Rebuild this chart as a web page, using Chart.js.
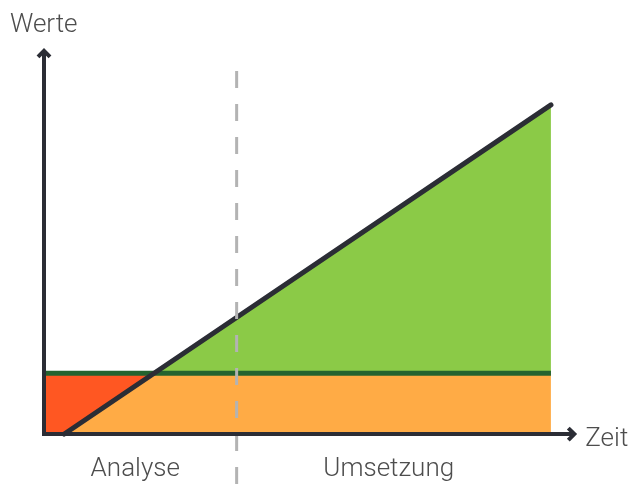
<!DOCTYPE html>
<html>
<head>
<meta charset="utf-8">
<script src="https://cdn.jsdelivr.net/npm/chart.js@4"></script>
<style>
	body { margin: 0; background: #ffffff; }
	#wrap { width: 631px; height: 491px; }
</style>
</head>
<body>
<div id="wrap"><canvas id="diagram" width="631" height="491"></canvas></div>
<script>
// values (x = Zeit, y = Werte)
const axisLabels = ["Werte", "Zeit"];
const phaseNames = ["Analyse", "Umsetzung"];
const phaseCenters = [18, 68];
const phaseSplit = [38, 38];
const splitSpan = [110.3, -17.3];

const threshold = [18.5, 18.5];
const thresholdX = [0, 100];

const lineX = [4, 100];
const lineY = [0, 100];
const crossX = 21.8;

const xAxisEnd = 105;
const yAxisEnd = 117;

const dark = "#2b2d35";

function pts(xs, ys) {
	let out = [];
	for (let i = 0; i < xs.length; i++) {
		out.push({ x: xs[i], y: ys[i] });
	}
	return out;
}

// axes with arrows + text
const decorations = {
	id: "decorations",
	afterDatasetsDraw(chart) {
		const ctx = chart.ctx;
		const xs = chart.scales.x;
		const ys = chart.scales.y;
		const x0 = xs.getPixelForValue(0);
		const y0 = ys.getPixelForValue(0);
		const xEnd = xs.getPixelForValue(xAxisEnd);
		const yEnd = ys.getPixelForValue(yAxisEnd);

		ctx.save();
		ctx.strokeStyle = dark;
		ctx.lineWidth = 4;
		ctx.lineCap = "butt";
		ctx.lineJoin = "miter";

		ctx.beginPath();
		ctx.moveTo(x0, y0 + 2);
		ctx.lineTo(x0, yEnd + 2);
		ctx.moveTo(x0 - 2, y0);
		ctx.lineTo(xEnd - 2, y0);
		ctx.stroke();

		ctx.beginPath();
		ctx.moveTo(x0 - 6, yEnd + 8);
		ctx.lineTo(x0, yEnd + 2);
		ctx.lineTo(x0 + 6, yEnd + 8);
		ctx.moveTo(xEnd - 8, y0 - 6);
		ctx.lineTo(xEnd - 2, y0);
		ctx.lineTo(xEnd - 8, y0 + 6);
		ctx.stroke();

		ctx.fillStyle = "#4d4d4d";
		ctx.font = "300 26px Roboto";
		ctx.textBaseline = "alphabetic";
		ctx.textAlign = "left";
		ctx.fillText(axisLabels[0], x0 - 34, 32);
		ctx.fillText(axisLabels[1], xEnd + 9, y0 + 3 + 9);
		ctx.textAlign = "center";
		for (let i = 0; i < phaseNames.length; i++) {
			ctx.fillText(phaseNames[i], xs.getPixelForValue(phaseCenters[i]), 476);
		}
		ctx.restore();
	},
};

const ctx = document.getElementById("diagram");

new Chart(ctx, {
	type: "line",
	data: {
		datasets: [
			{
				// dashed split between the phases
				data: pts(phaseSplit, splitSpan),
				borderColor: "#b3b3b3",
				borderWidth: 3,
				borderDash: [17, 16],
				fill: false,
				order: 0,
			},
			{
				// rising line
				data: pts(lineX, lineY),
				borderColor: dark,
				borderWidth: 5,
				borderCapStyle: "round",
				fill: false,
				order: 1,
			},
			{
				// threshold line
				data: pts(thresholdX, threshold),
				borderColor: "#24632f",
				borderWidth: 5,
				fill: false,
				order: 2,
			},
			{
				// gain above the threshold
				data: pts([crossX, lineX[1]], [threshold[0], lineY[1]]),
				borderWidth: 0,
				backgroundColor: "#8bca47",
				fill: { value: threshold[0] },
				order: 3,
			},
			{
				// orange part under the threshold
				data: pts([lineX[0], crossX, thresholdX[1]], [0, threshold[0], threshold[1]]),
				borderWidth: 0,
				backgroundColor: "#ffab45",
				fill: "origin",
				order: 4,
			},
			{
				// red part left of the line
				data: pts([thresholdX[0], crossX], [threshold[0], threshold[0]]),
				borderWidth: 0,
				backgroundColor: "#ff5722",
				fill: "origin",
				order: 5,
			},
		],
	},
	plugins: [decorations],
	options: {
		responsive: false,
		animation: false,
		layout: {
			padding: { left: 44, right: 4, top: 39, bottom: 0 },
		},
		elements: {
			point: { radius: 0 },
			line: { tension: 0 },
		},
		scales: {
			x: { type: "linear", min: 0, max: 115, display: false },
			y: { type: "linear", min: -17.3, max: 120, display: false },
		},
		plugins: {
			legend: { display: false },
			tooltip: { enabled: false },
		},
	},
});
</script>
</body>
</html>
